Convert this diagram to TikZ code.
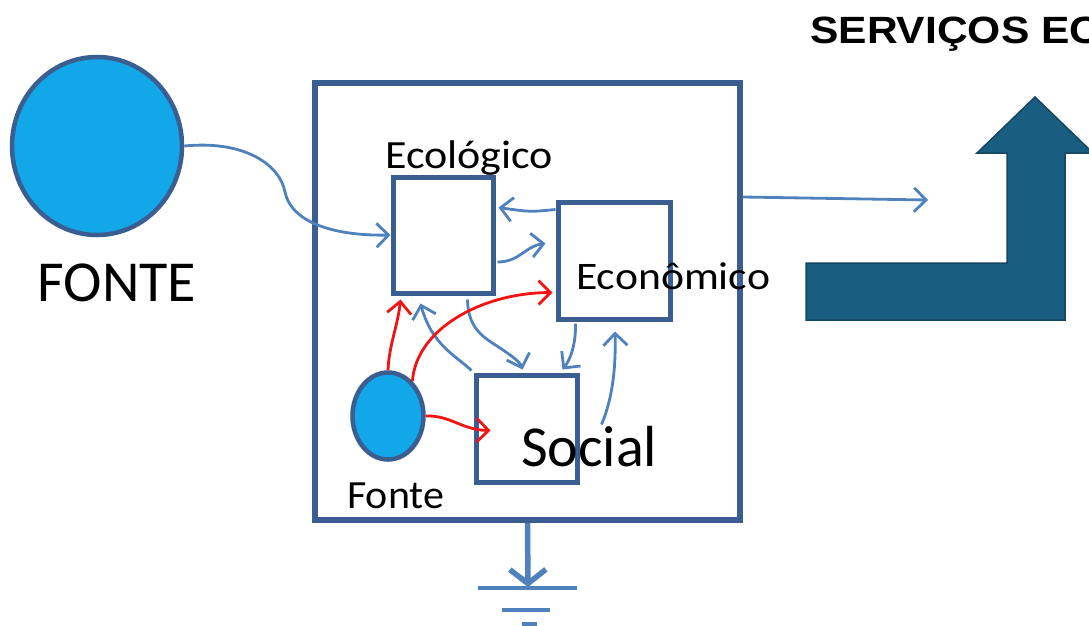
\documentclass[tikz,border=0pt]{standalone}
\usepackage{fontspec}
\setmainfont{Carlito}
\newfontfamily\titlefont{Liberation Sans}
\usetikzlibrary{arrows.meta,calc,shapes.geometric}
\definecolor{boxc}{RGB}{58,94,145}
\definecolor{arrc}{RGB}{79,129,189}
\definecolor{fillc}{RGB}{18,167,232}
\definecolor{bigarr}{RGB}{25,94,128}
\definecolor{bigarrd}{RGB}{20,70,100}
\definecolor{redc}{RGB}{240,20,20}
\tikzset{
  boxst/.style={draw=boxc,line width=5pt,inner sep=0pt,fill=white},
  srcst/.style={ellipse,draw=boxc,line width=4.5pt,fill=fillc,inner sep=0pt},
  conn/.style={draw=arrc,line width=2.8pt,-{Straight Barb[length=12pt,width=24pt]}},
  redconn/.style={draw=redc,line width=2.8pt,-{Straight Barb[length=12pt,width=24pt]}},
  lbl/.style={inner sep=0pt,anchor=base west},
}
\begin{document}
\begin{tikzpicture}[x=1pt,y=-1pt]
\useasboundingbox (0,0) rectangle (1089,625);
% big source
\node[srcst,minimum width=170pt,minimum height=178pt] (F) at (97,146) {};
\node[inner sep=0pt] (Flbl) at (117,283) {\fontsize{58}{60}\selectfont FONTE};
% system box
\node[boxst,fill=none,line width=6pt,minimum width=425pt,minimum height=437pt] (sys) at (527.5,301.5) {};
% inner boxes
\node[boxst,minimum width=100pt,minimum height=116pt] (eco) at (443,235) {};
\node[boxst,minimum width=112pt,minimum height=117pt] (econ) at (614,260.5) {};
\node[boxst,minimum width=101pt,minimum height=107pt] (soc) at (526.5,428.5) {};
\node[srcst,minimum width=71pt,minimum height=87pt] (fs) at (388,416) {};
% labels
\node[lbl,xscale=1.1] (ecolbl) at (385,168) {\fontsize{40}{42}\selectfont Ecológico};
\node[lbl,xscale=1.12] (econlbl) at (576,289) {\fontsize{39}{42}\selectfont Econômico};
\node[lbl] (soclbl) at (521,466) {\fontsize{58}{60}\selectfont Social};
\node[lbl,xscale=1.05] (fslbl) at (347,508) {\fontsize{40}{42}\selectfont Fonte};
\node[lbl,xscale=1.12] (title) at (810,43) {\titlefont\bfseries\fontsize{38}{40}\selectfont SERVIÇOS EC};
% outer connectors
\draw[conn] (F.east) .. controls (245,140) and (280,165) .. (285,192)
  .. controls (292,225) and (340,236) .. (eco.west);
\coordinate (out) at (928,200);
\draw[conn] ($(sys.north east)+(0,117)$) -- (out);
% inner blue connectors
\draw[conn] ($(econ.north west)+(0,10)$) .. controls (530,212) .. ($(eco.north east)+(3,33)$);
\draw[conn] ($(eco.east)+(2,27)$) .. controls (520,262) and (525,246) .. ($(econ.west)+(-10,-17)$);
\draw[conn] ($(eco.south east)+(-28,4)$) .. controls (468,330) and (485,338) .. (500,348)
  .. controls (512,356) and (520,362) .. ($(soc.north)+(-4,-3)$);
\draw[conn] ($(econ.south west)+(20,2)$) .. controls (576,345) and (570,360) .. ($(soc.north east)+(-17,-3)$);
\draw[conn] ($(soc.east)+(22,-4)$) .. controls (612,400) and (616,370) .. ($(econ.south)+(1,10)$);
\draw[conn] ($(soc.north west)+(-2,-2)$) .. controls (455,355) and (432,345) .. ($(eco.south west)+(30,8)$);
% red connectors
\draw[redconn] (fs.north) .. controls (389,345) and (398,325) .. ($(eco.south west)+(10,4)$);
\draw[redconn] (fs.55) .. controls (416,330) and (480,293) .. ($(econ.west)+(-3,32)$);
\draw[redconn] (fs.east) .. controls (450,415) and (462,430) .. ($(soc.west)+(17,2)$);
% ground
\coordinate (g0) at (528,587);
\draw[draw=arrc,line width=5.5pt,-{Straight Barb[length=14pt,width=36pt]}] (sys.south) -- (g0);
\node[inner sep=0pt,minimum width=99pt,minimum height=0pt] (gl1) at (527.5,588) {};
\draw[draw=arrc,line width=3.5pt] (gl1.west) -- (gl1.east);
\node[inner sep=0pt,minimum width=48pt,minimum height=0pt] (gl2) at (526,610) {};
\draw[draw=arrc,line width=3.5pt] (gl2.west) -- (gl2.east);
\node[inner sep=0pt,minimum width=15pt,minimum height=0pt] (gl3) at (529.5,624) {};
\draw[draw=arrc,line width=5pt] (gl3.west) -- (gl3.east);
% big bent arrow
\draw[draw=bigarrd,fill=bigarr,line width=1.5pt] (806,320) -- (1065,320) -- (1065,153) -- (1093,153)
  -- (1035,97) -- (977,153) -- (1007,153) -- (1007,263) -- (806,263) -- cycle;
\end{tikzpicture}
\end{document}
